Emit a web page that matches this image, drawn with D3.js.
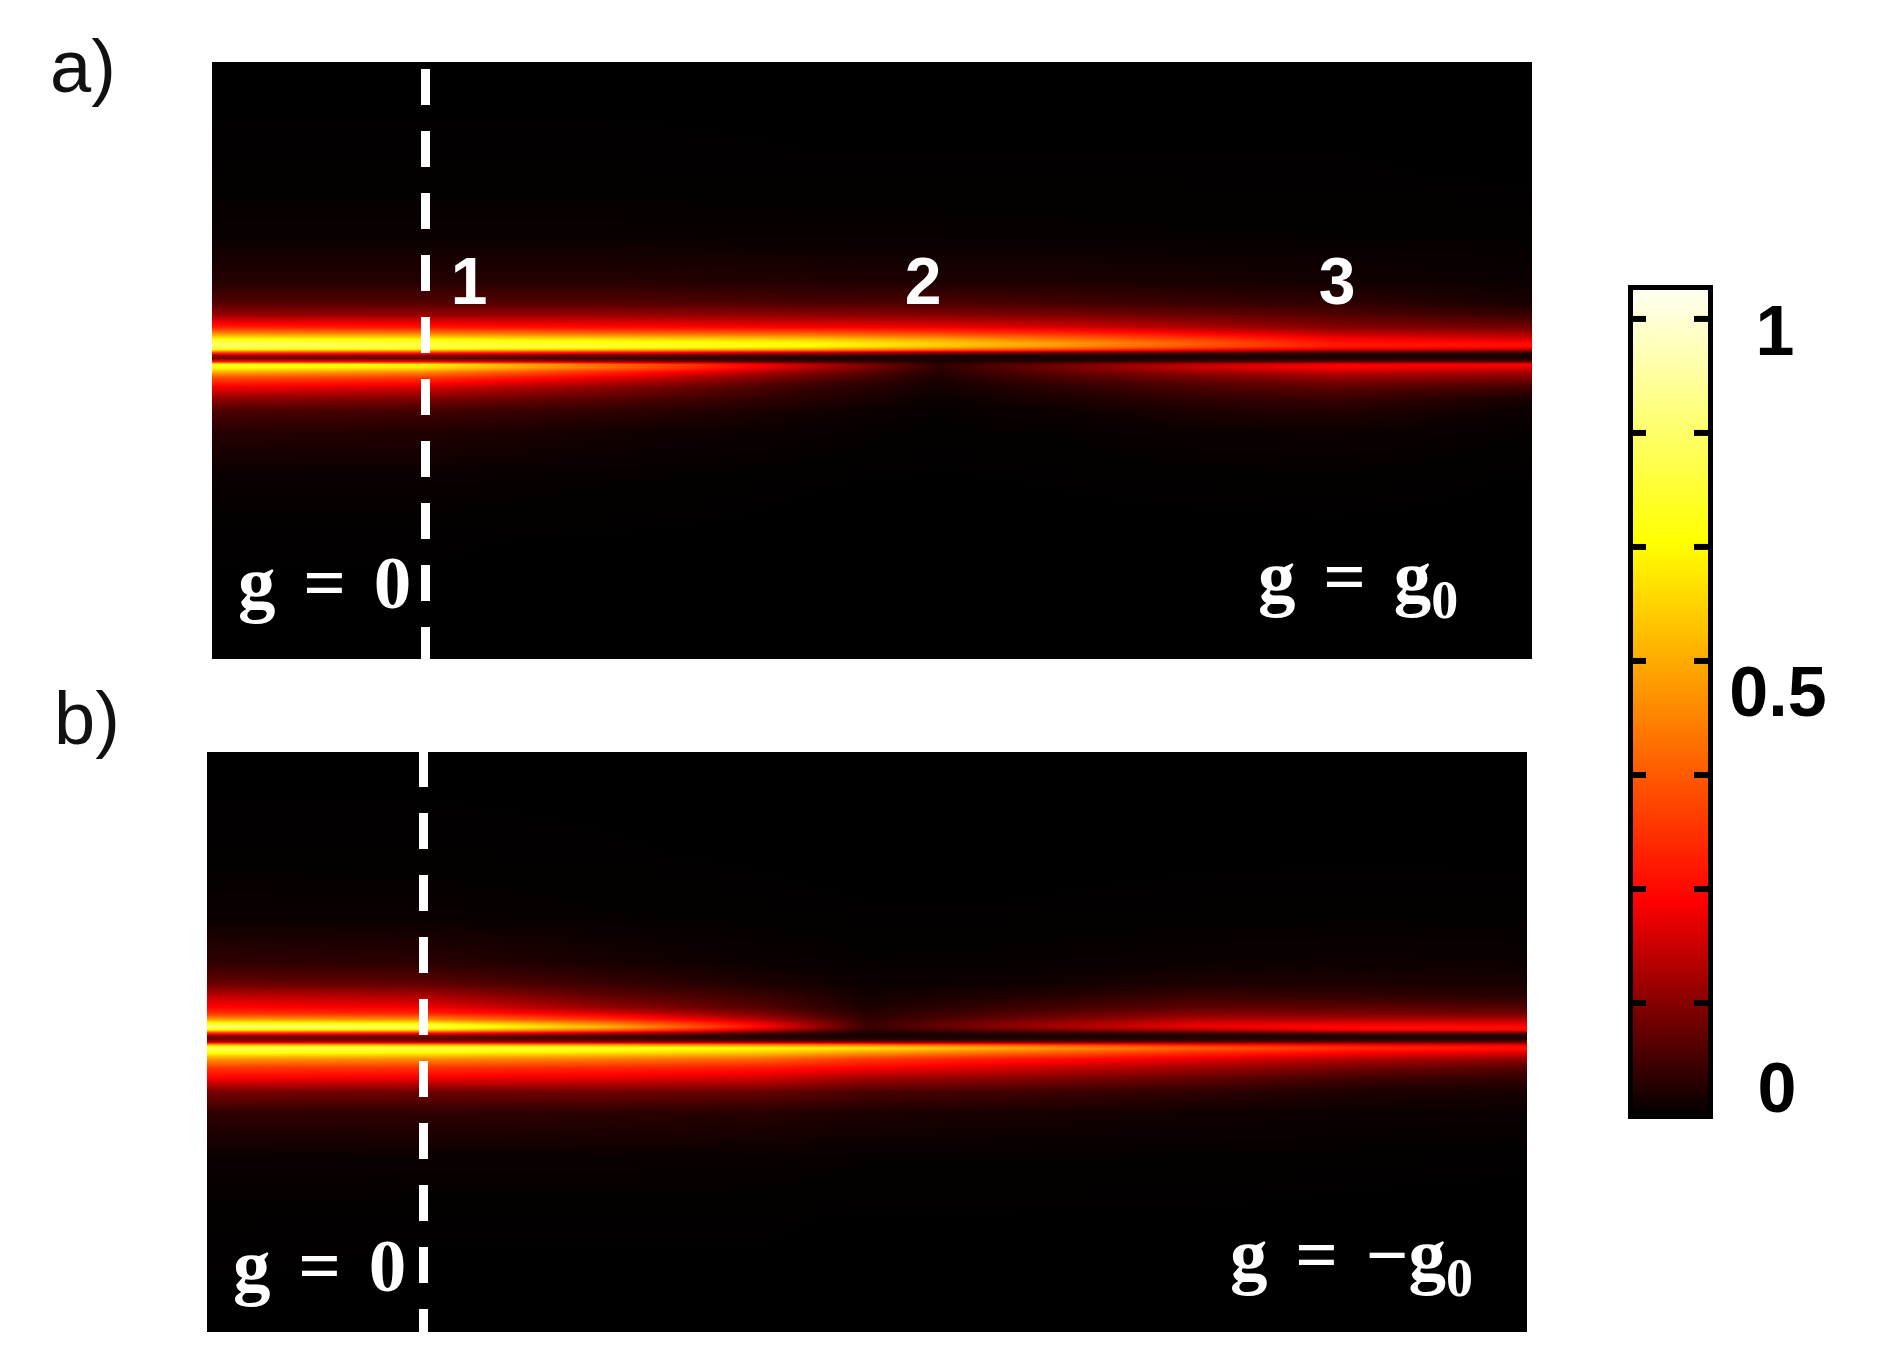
<!DOCTYPE html>
<html>
<head>
<meta charset="utf-8">
<script src="https://cdn.jsdelivr.net/npm/d3@7"></script>
<style>
  html, body { margin: 0; padding: 0; background: #fff; }
  #wrap { position: relative; width: 1890px; height: 1349px; overflow: hidden; }
  canvas, svg { position: absolute; left: 0; top: 0; }
</style>
</head>
<body>
<div id="wrap">
  <canvas id="map" width="1890" height="1349"></canvas>
  <svg id="chart" width="1890" height="1349"></svg>
</div>
<script>
const rows = [99, 60, 40, 25, 18, 14, 10, 8, 6, 4.5, 3.5, 2.5, 1.5, 0.5, -0.5, -1.5, -2.5, -3.5, -5, -7, -10, -14, -18, -25, -40, -60, -101];

// position along the sweep, 0 is the left edge of the panel, 1 the right edge
const columnsA = [0, 0.16, 0.3, 0.45, 0.55, 0.65, 0.75, 0.85, 1];
const columnsB = [0, 0.16, 0.3, 0.42, 0.5, 0.6, 0.75, 0.88, 1];

// panel a, one list per column, one value per row
const intensityA = [
  [0, .003, .01, .04, .09, .16, .32, .5, .72, .84, .86, .72, .4, .16, .12, .3, .76, .74, .58, .4, .26, .15, .08, .04, .01, .002, 0],
  [0, .003, .01, .04, .09, .16, .3, .48, .7, .8, .82, .68, .36, .14, .1, .26, .7, .68, .52, .36, .23, .13, .07, .035, .01, .002, 0],
  [0, .003, .01, .04, .09, .16, .28, .44, .66, .76, .78, .62, .3, .1, .06, .16, .46, .46, .34, .24, .15, .09, .05, .02, .006, .001, 0],
  [0, .002, .008, .035, .08, .15, .26, .42, .62, .72, .72, .55, .22, .06, .03, .07, .2, .2, .15, .1, .06, .04, .02, .01, .002, 0, 0],
  [0, .002, .008, .03, .08, .14, .25, .38, .55, .64, .62, .46, .16, .04, .02, .03, .05, .05, .04, .03, .02, .012, .006, .003, .001, 0, 0],
  [0, .002, .007, .03, .07, .13, .22, .33, .46, .54, .52, .38, .12, .03, .02, .05, .12, .13, .11, .08, .05, .03, .015, .006, .002, 0, 0],
  [0, .002, .006, .025, .06, .11, .18, .26, .37, .43, .41, .29, .09, .03, .025, .08, .2, .22, .17, .12, .08, .05, .03, .012, .003, 0, 0],
  [0, .002, .005, .02, .05, .09, .14, .2, .27, .31, .31, .22, .07, .03, .03, .1, .26, .27, .21, .15, .1, .06, .035, .014, .004, 0, 0],
  [0, .001, .004, .012, .025, .06, .12, .17, .23, .29, .29, .2, .06, .03, .03, .1, .27, .24, .18, .13, .07, .025, .012, .005, .001, 0, 0]
];

// panel b, same rows
const intensityB = [
  [0, .003, .012, .05, .11, .2, .28, .36, .55, .78, .88, .7, .35, .14, .12, .2, .6, .84, .75, .55, .37, .25, .13, .05, .012, .003, 0],
  [0, .003, .01, .045, .1, .18, .26, .34, .52, .74, .84, .66, .32, .12, .1, .18, .58, .82, .72, .53, .36, .24, .12, .05, .011, .002, 0],
  [0, .002, .006, .025, .06, .1, .16, .24, .36, .52, .6, .46, .2, .07, .07, .16, .55, .78, .68, .5, .34, .23, .12, .045, .01, .002, 0],
  [0, .001, .003, .012, .03, .06, .09, .13, .19, .26, .28, .2, .09, .03, .05, .14, .52, .72, .63, .46, .31, .21, .11, .04, .009, .002, 0],
  [0, 0, .002, .006, .012, .02, .03, .04, .05, .06, .06, .045, .03, .02, .04, .12, .48, .68, .55, .38, .27, .16, .08, .03, .006, .001, 0],
  [0, 0, .002, .007, .015, .03, .06, .08, .11, .14, .14, .1, .05, .02, .04, .11, .42, .58, .47, .32, .23, .14, .07, .025, .005, .001, 0],
  [0, .001, .003, .012, .03, .06, .1, .14, .19, .24, .25, .18, .07, .03, .04, .1, .32, .44, .35, .25, .17, .1, .05, .018, .004, .001, 0],
  [0, .001, .004, .015, .03, .05, .1, .13, .19, .25, .29, .27, .1, .03, .04, .1, .27, .34, .27, .19, .12, .06, .03, .012, .003, 0, 0],
  [0, .001, .003, .012, .025, .04, .09, .12, .19, .25, .29, .28, .1, .03, .04, .1, .25, .3, .24, .16, .09, .05, .025, .01, .002, 0, 0]
];

// colorbar
const barDomain = [0, 1.04];
const barTicks = [1/7, 2/7, 3/7, 4/7, 5/7, 6/7, 1];
const barLabels = ["0", "0.5", "1"];
const colorStops = [0, 0.27, 0.72, 1.04];
const colorValues = ["#000000", "#ff0000", "#ffff00", "#fffff4"];

const color = d3.scaleLinear().domain(colorStops).range(colorValues).clamp(true);

// pixel boxes of the two panels
const panels = [
  { name: "a)", columns: columnsA, data: intensityA, x0: 212, x1: 1532, top: 62, bottom: 659, dip: 357, dash: 425.5, dashOffset: 55, labelX: 50, labelY: 92,
    gLeft: "g = 0", gLeftX: 238, gLeftY: 608, gRightX: 1258, gRightY: 602, gRight: ["g = g", "0"] },
  { name: "b)", columns: columnsB, data: intensityB, x0: 207, x1: 1527, top: 752, bottom: 1332, dip: 1037.5, dash: 423.5, dashOffset: 1, labelX: 54, labelY: 744,
    gLeft: "g = 0", gLeftX: 233, gLeftY: 1291, gRightX: 1230, gRightY: 1280, gRight: ["g = \u2212g", "0"] }
];

const canvas = document.getElementById("map");
const ctx = canvas.getContext("2d");
const svg = d3.select("#chart");
const rowsAsc = rows.slice().reverse();

function lookup(p, u, v) {
  // bilinear read of the table, the image is shown smoothed
  let i = Math.min(Math.max(d3.bisectRight(p.columns, u) - 1, 0), p.columns.length - 2);
  let j = Math.min(Math.max(d3.bisectRight(rowsAsc, v) - 1, 0), rowsAsc.length - 2);
  let tu = (u - p.columns[i]) / (p.columns[i+1] - p.columns[i]);
  let tv = (v - rowsAsc[j]) / (rowsAsc[j+1] - rowsAsc[j]);
  let r0 = rows.length - 1 - j, r1 = r0 - 1;
  let a = p.data[i][r0] * (1-tv) + p.data[i][r1] * tv;
  let b = p.data[i+1][r0] * (1-tv) + p.data[i+1][r1] * tv;
  return a * (1-tu) + b * tu;
}

panels.forEach(p => {
  let xScale = d3.scaleLinear().domain([0, 1]).range([p.x0, p.x1]);
  let yScale = d3.scaleLinear().domain([(p.dip - p.bottom) / 3, (p.dip - p.top) / 3]).range([p.bottom, p.top]);
  for (let py = p.top; py < p.bottom; py++) {
    let v = yScale.invert(py + 0.5);
    for (let px = p.x0; px < p.x1; px++) {
      ctx.fillStyle = color(lookup(p, xScale.invert(px + 0.5), v));
      ctx.fillRect(px, py, 1, 1);
    }
  }

  // dashed line at g = 0
  svg.append("line")
    .attr("x1", p.dash).attr("x2", p.dash)
    .attr("y1", p.top).attr("y2", p.bottom)
    .attr("stroke", "#fff")
    .attr("stroke-width", 9)
    .attr("stroke-dasharray", "36 26")
    .attr("stroke-dashoffset", p.dashOffset);

  svg.append("text")
    .attr("x", p.labelX).attr("y", p.labelY)
    .attr("font-family", "Liberation Sans")
    .attr("font-size", 74)
    .attr("fill", "#111")
    .text(p.name);

  svg.append("text")
    .attr("x", p.gLeftX).attr("y", p.gLeftY)
    .attr("font-family", "Liberation Serif")
    .attr("font-weight", "bold")
    .attr("font-size", 75)
    .attr("word-spacing", 9)
    .attr("fill", "#fff")
    .text(p.gLeft);

  let right = svg.append("text")
    .attr("x", p.gRightX).attr("y", p.gRightY)
    .attr("font-family", "Liberation Serif")
    .attr("font-weight", "bold")
    .attr("font-size", 75)
    .attr("word-spacing", 9)
    .attr("fill", "#fff");
  right.append("tspan").text(p.gRight[0]);
  right.append("tspan").attr("font-size", 54).attr("dy", 16).text(p.gRight[1]);
});

// numbers above the upper band of panel a
const peakLabels = ["1", "2", "3"];
const peakX = [469, 923, 1337];
svg.selectAll(".peak")
  .data(peakLabels)
  .enter().append("text")
  .attr("class", "peak")
  .attr("x", (d, i) => peakX[i])
  .attr("y", 304)
  .attr("text-anchor", "middle")
  .attr("font-family", "Liberation Sans")
  .attr("font-weight", "bold")
  .attr("font-size", 66)
  .attr("fill", "#fff")
  .text(d => d);

// colorbar
let barY = d3.scaleLinear().domain(barDomain).range([1117, 287]);
const barLeft = 1633, barRight = 1708;
for (let py = 287; py < 1117; py++) {
  ctx.fillStyle = color(barY.invert(py + 0.5));
  ctx.fillRect(barLeft, py, barRight - barLeft, 1);
}
svg.append("rect")
  .attr("x", barLeft - 2.5).attr("y", 287.5)
  .attr("width", barRight - barLeft + 5).attr("height", 829)
  .attr("fill", "none")
  .attr("stroke", "#000")
  .attr("stroke-width", 5);
svg.selectAll(".tickL")
  .data(barTicks)
  .enter().append("line")
  .attr("class", "tickL")
  .attr("x1", barLeft).attr("x2", barLeft + 13)
  .attr("y1", d => barY(d)).attr("y2", d => barY(d))
  .attr("stroke", "#000").attr("stroke-width", 6);
svg.selectAll(".tickR")
  .data(barTicks)
  .enter().append("line")
  .attr("class", "tickR")
  .attr("x1", barRight - 14).attr("x2", barRight)
  .attr("y1", d => barY(d)).attr("y2", d => barY(d))
  .attr("stroke", "#000").attr("stroke-width", 6);

const labelY = [1112, 716, 355];
const labelX = [1777, 1778, 1775];
svg.selectAll(".barLabel")
  .data(barLabels)
  .enter().append("text")
  .attr("class", "barLabel")
  .attr("x", (d, i) => labelX[i])
  .attr("y", (d, i) => labelY[i])
  .attr("text-anchor", "middle")
  .attr("font-family", "Liberation Sans")
  .attr("font-weight", "bold")
  .attr("font-size", 70)
  .attr("fill", "#000")
  .text(d => d);
</script>
</body>
</html>
